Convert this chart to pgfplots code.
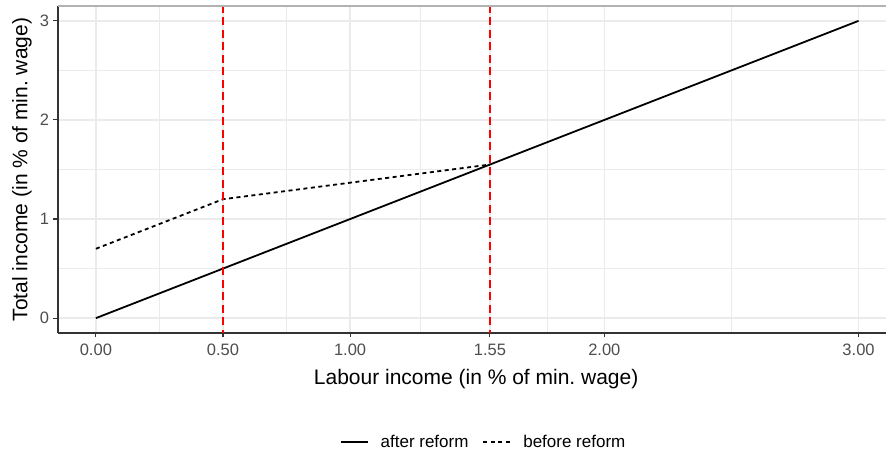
\documentclass[border=0pt]{standalone}
\usepackage{fontspec}
\setmainfont{Liberation Sans}
\usepackage{pgfplots}
\pgfplotsset{compat=1.18}
\definecolor{gridc}{HTML}{EBEBEB}
\definecolor{ticktext}{HTML}{4D4D4D}
\definecolor{axc}{HTML}{333333}
\begin{document}
\begin{tikzpicture}
\useasboundingbox (-58pt,-121pt) rectangle (828pt,333pt);
\begin{axis}[
  scale only axis,
  width=828pt, height=327pt,
  xmin=-0.149, xmax=3.108,
  ymin=-0.15, ymax=3.15,
  axis x line*=bottom, axis y line*=left,
  axis line style={axc, line width=1.3pt, -},
  xtick={0,0.5,1,1.55,2,3},
  xticklabels={0.00,0.50,1.00,1.55,2.00,3.00},
  ytick={0,1,2,3},
  yticklabels={0,1,2,3},
  minor xtick={0.25,0.75,1.275,1.775,2.5},
  minor ytick={0.5,1.5,2.5},
  tick align=outside,
  major tick length=4.5pt,
  minor tick length=0pt,
  tick style={axc, line width=1.1pt},
  grid=both,
  major grid style={gridc, line width=1.4pt},
  minor grid style={gridc, line width=0.8pt},
  tick label style={font=\fontsize{16.5}{18}\selectfont, text=ticktext},
  xticklabel style={yshift=-3pt},
  yticklabel style={xshift=-1pt},
  xlabel={Labour income (in \% of min.\ wage)},
  ylabel={Total income (in \% of min.\ wage)},
  label style={font=\fontsize{21}{24}\selectfont},
  xlabel style={at={(axis description cs:0.505,-0.1407)}, anchor=center},
  ylabel style={at={(axis description cs:-0.0435,0.5)}, anchor=center, rotate=0},
  legend style={at={(axis description cs:0.514,-0.333)}, anchor=center,
    draw=none, fill=none, font=\fontsize{17}{20}\selectfont,
    /tikz/every even column/.append style={column sep=12pt},
    /tikz/every odd column/.append style={column sep=10pt}},
  legend columns=2,
  legend image code/.code={\draw[#1] (0pt,0pt) -- (27pt,0pt);},
  clip=true,
]
\addplot[black, line width=1.8pt] coordinates {
  (0,0) (0.5,0.5) (1.55,1.55) (3,3)
};
\addlegendentry{after reform}
\addplot[black, line width=1.8pt, dash pattern=on 4pt off 3.5pt] coordinates {
  (0,0.70) (0.5,1.20) (1.25,1.45) (1.55,1.55)
};
\addlegendentry{before reform}
\addplot[red, line width=1.6pt, dash pattern=on 8pt off 4.5pt, forget plot] coordinates {
  (0.5,-0.2) (0.5,3.2)
};
\addplot[red, line width=1.6pt, dash pattern=on 8pt off 4.5pt, forget plot] coordinates {
  (1.55,-0.2) (1.55,3.2)
};
\draw[gray!60, line width=1.3pt] (rel axis cs:0,1) -- (rel axis cs:1,1);
\end{axis}
\end{tikzpicture}
\end{document}
